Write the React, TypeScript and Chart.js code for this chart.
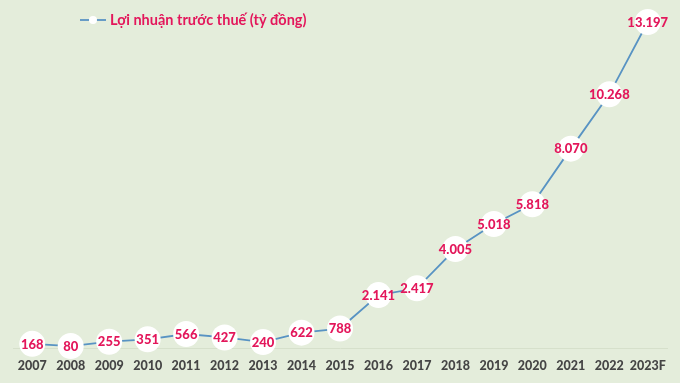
import React, { useEffect, useRef } from "react";
import { Chart, registerables } from "chart.js";

Chart.register(...registerables);

const categories = ["2007", "2008", "2009", "2010", "2011", "2012", "2013", "2014", "2015", "2016", "2017", "2018", "2019", "2020", "2021", "2022", "2023F"];
const profit = [168, 80, 255, 351, 566, 427, 240, 622, 788, 2141, 2417, 4005, 5018, 5818, 8070, 10268, 13197];
const seriesLabel = "Lợi nhuận trước thuế (tỷ đồng)";

const BG = "#e4eddb";
const RED = "#e3175b";
const LINE = "#5893c3";

function fmt(v: number): string {
  return String(v).replace(/\B(?=(\d{3})+(?!\d))/g, ".");
}

const labelPlugin = {
  id: "pointLabels",
  afterDatasetsDraw(chart: any) {
    const ctx = chart.ctx;
    const meta = chart.getDatasetMeta(0);
    const data = chart.data.datasets[0].data as number[];
    ctx.save();
    ctx.font = "900 13px Lato";
    ctx.fillStyle = RED;
    ctx.textAlign = "center";
    ctx.textBaseline = "middle";
    meta.data.forEach((pt: any, i: number) => {
      ctx.fillText(fmt(data[i]), pt.x, pt.y + 0.5);
    });
    ctx.restore();
  },
  afterDraw(chart: any) {
    const ctx = chart.ctx;
    ctx.save();
    const y = 20;
    ctx.strokeStyle = LINE;
    ctx.lineWidth = 1.8;
    ctx.beginPath();
    ctx.moveTo(80, y);
    ctx.lineTo(106, y);
    ctx.stroke();
    ctx.fillStyle = "#ffffff";
    ctx.beginPath();
    ctx.arc(93, y, 4, 0, Math.PI * 2);
    ctx.fill();
    ctx.font = "bold 14.5px Lato";
    ctx.fillStyle = RED;
    ctx.textAlign = "left";
    ctx.textBaseline = "middle";
    ctx.fillText(chart.data.datasets[0].label, 110, y);
    ctx.restore();
  },
};

export default function App() {
  const ref = useRef<HTMLCanvasElement | null>(null);
  useEffect(() => {
    document.body.style.margin = "0";
    if (!ref.current) return;
    const chart = new Chart(ref.current, {
      type: "line",
      data: {
        labels: categories,
        datasets: [
          {
            label: seriesLabel,
            data: profit,
            borderColor: LINE,
            borderWidth: 1.8,
            pointRadius: 13,
            pointHoverRadius: 13,
            pointBackgroundColor: "#ffffff",
            pointBorderWidth: 0,
            pointBorderColor: "#ffffff",
            tension: 0,
            clip: false as any,
          },
        ],
      },
      options: {
        animation: false,
        responsive: false,
        layout: { padding: { top: 10, bottom: 8, left: 11.5, right: 8.5 } },
        plugins: { legend: { display: false }, tooltip: { enabled: false } },
        scales: {
          x: {
            offset: true,
            grid: { display: false },
            border: { display: true, color: "#d6e0cb", width: 1 },
            ticks: { color: "#454545", font: { family: "Lato", size: 12.5, weight: "900" as any }, padding: 2, maxRotation: 0, autoSkip: false },
            afterFit: (scale: any) => {
              scale.paddingLeft = 0;
              scale.paddingRight = 0;
            },
          },
          y: { display: false, min: 0, max: 13560 },
        },
      },
      plugins: [labelPlugin],
    });
    return () => chart.destroy();
  }, []);
  return (
    <div style={{ width: 680, height: 383, background: BG }}>
      <canvas ref={ref} width={680} height={383} style={{ display: "block" }} />
    </div>
  );
}
